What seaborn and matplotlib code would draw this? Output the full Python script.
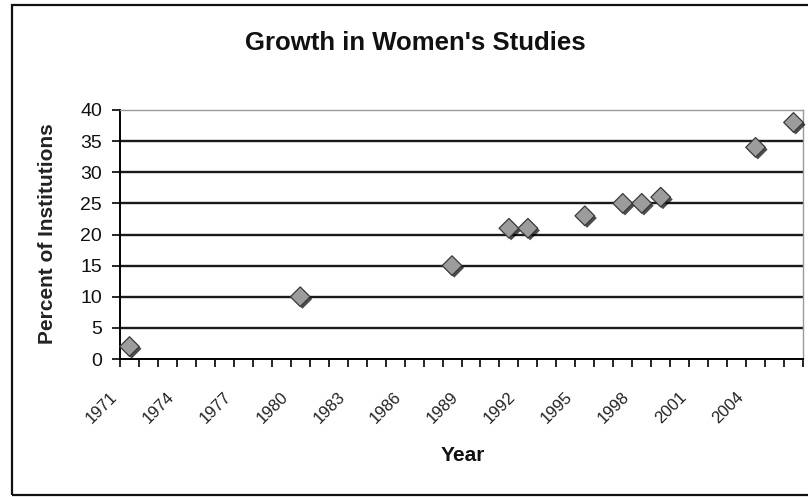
import numpy as np
import pandas as pd
import matplotlib
matplotlib.use("Agg")
import matplotlib.pyplot as plt
import matplotlib.patheffects as pe
from matplotlib.patches import Rectangle
import seaborn as sns

# Survey years and share of institutions offering Women's Studies
years = [1971, 1980, 1988, 1991, 1992, 1995, 1997, 1998, 1999, 2004, 2006]
percent = [2, 10, 15, 21, 21, 23, 25, 25, 26, 34, 38]

year_start, year_end = 1971, 2007
label_years = list(range(1971, 2005, 3))
y_ticks = [0, 5, 10, 15, 20, 25, 30, 35, 40]

title = "Growth in Women's Studies"
x_label = "Year"
y_label = "Percent of Institutions"

sns.set_theme(style="white")
plt.rcParams["font.family"] = ["Liberation Sans", "DejaVu Sans"]

df = pd.DataFrame({"year": years, "percent": percent})
# each year is a one-year slot on the axis; markers sit mid-slot
df["slot_mid"] = df["year"] + 0.5

fig = plt.figure(figsize=(8.08, 4.97), dpi=100)
ax = fig.add_axes([120 / 808, 1 - 359 / 497, 683 / 808, 249 / 497])

sns.scatterplot(data=df, x="slot_mid", y="percent", ax=ax, marker="D", s=100,
                color="#9c9c9c", edgecolor="#3a3a3a", linewidth=0.9,
                zorder=5, clip_on=False, legend=False)
ax.collections[0].set_path_effects([
    pe.SimplePatchShadow(offset=(1.6, -1.6), shadow_rgbFace="black", alpha=0.7),
    pe.Normal(),
])

ax.set_xlim(year_start, year_end)
ax.set_ylim(0, 40)
ax.set_yticks(y_ticks)
ax.set_yticklabels([str(v) for v in y_ticks], fontsize=14, color="#111111")
ax.set_xticks(label_years)
ax.set_xticks(range(year_start, year_end + 1), minor=True)
ax.set_xticklabels([str(y) for y in label_years], rotation=45, ha="right",
                   va="top", fontsize=12, color="#222222")

ax.tick_params(axis="x", which="both", direction="out", length=6, width=1.2,
               color="black", bottom=True, pad=16)
ax.tick_params(axis="y", direction="out", length=6, width=1.2, color="black",
               left=True, pad=7)

# horizontal gridlines in black, the top boundary stays as the light frame
ax.yaxis.grid(True, color="#1a1a1a", linewidth=1.7)
ax.xaxis.grid(False)
for t in ax.yaxis.get_major_ticks():
    if t.get_loc() in (0, 40):
        t.gridline.set_visible(False)

for side in ("left", "bottom"):
    ax.spines[side].set_color("black")
    ax.spines[side].set_linewidth(1.4)
for side in ("top", "right"):
    ax.spines[side].set_color("#9a9a9a")
    ax.spines[side].set_linewidth(1.0)

ax.set_xlabel(x_label, fontsize=15, fontweight="bold", color="#111111")
ax.set_ylabel(y_label, fontsize=15, fontweight="bold", color="#222222")
ax.xaxis.set_label_coords((463 - 120) / 683, -(456 - 359) / 249)
ax.yaxis.set_label_coords(-(120 - 48) / 683, (359 - 234) / 249)
ax.xaxis.label.set_va("center")
ax.yaxis.label.set_va("center")

fig.text(415 / 808, 1 - 43 / 497, title, ha="center", va="center",
         fontsize=18.5, fontweight="bold", color="#111111")

# chart-area border
fig.patches.append(Rectangle((12 / 808, 2 / 497), 1.0, 490 / 497,
                             transform=fig.transFigure, fill=False,
                             edgecolor="#111111", linewidth=1.6))

fig.savefig("out.png", dpi=100)
